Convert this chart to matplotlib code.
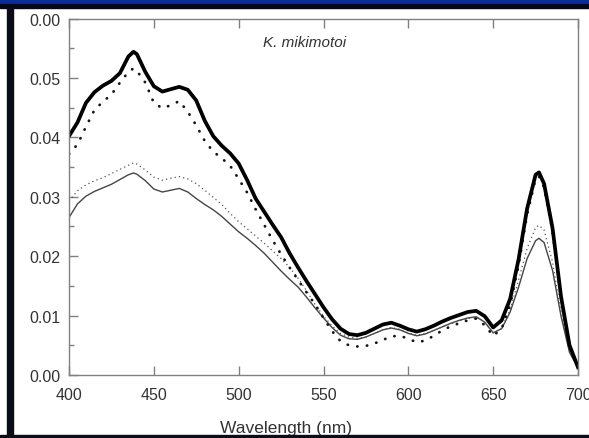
import matplotlib
matplotlib.use('Agg')
import matplotlib.pyplot as plt
from matplotlib.patches import Rectangle

plt.rcParams['font.family'] = ['Liberation Sans', 'DejaVu Sans']

# wavelength grid (nm)
wl = [400, 405, 410, 415, 420, 425, 430, 435, 438, 440,
      445, 450, 455, 460, 465, 470, 475, 480, 485, 490,
      495, 500, 505, 510, 515, 520, 525, 530, 535, 540,
      545, 550, 555, 560, 565, 570, 575, 580, 585, 590,
      595, 600, 605, 610, 615, 620, 625, 630, 635, 640,
      645, 650, 655, 660, 665, 670, 675, 677, 680, 685,
      690, 695, 700]

# thick solid
thick_solid = [0.0402, 0.0425, 0.0458, 0.0476, 0.0487, 0.0495, 0.0508, 0.0536, 0.0544, 0.0540,
               0.0510, 0.0486, 0.0477, 0.0481, 0.0485, 0.0480, 0.0462, 0.0428, 0.0402, 0.0386,
               0.0373, 0.0356, 0.0328, 0.0297, 0.0275, 0.0253, 0.0232, 0.0205, 0.0181, 0.0158,
               0.0136, 0.0114, 0.0094, 0.0078, 0.0069, 0.0067, 0.0071, 0.0078, 0.0085, 0.0088,
               0.0083, 0.0077, 0.0073, 0.0077, 0.0083, 0.0090, 0.0096, 0.0101, 0.0106, 0.0108,
               0.0099, 0.0080, 0.0092, 0.0128, 0.0195, 0.0280, 0.0337, 0.0341, 0.0322, 0.0247,
               0.0132, 0.0050, 0.0013]

# thick dotted
thick_dot = [0.0372, 0.0388, 0.0418, 0.0446, 0.0460, 0.0472, 0.0492, 0.0510, 0.0516, 0.0512,
             0.0492, 0.0458, 0.0449, 0.0454, 0.0461, 0.0443, 0.0420, 0.0394, 0.0376, 0.0365,
             0.0352, 0.0330, 0.0307, 0.0279, 0.0253, 0.0227, 0.0203, 0.0181, 0.0160, 0.0139,
             0.0119, 0.0096, 0.0074, 0.0057, 0.0050, 0.0048, 0.0049, 0.0053, 0.0059, 0.0065,
             0.0066, 0.0061, 0.0055, 0.0058, 0.0066, 0.0075, 0.0082, 0.0087, 0.0092, 0.0095,
             0.0084, 0.0066, 0.0078, 0.0118, 0.0185, 0.0270, 0.0330, 0.0334, 0.0316, 0.0242,
             0.0128, 0.0048, 0.0012]

# thin dotted
thin_dot = [0.0293, 0.0310, 0.0320, 0.0327, 0.0332, 0.0339, 0.0346, 0.0353, 0.0357, 0.0355,
            0.0345, 0.0333, 0.0328, 0.0331, 0.0334, 0.0330, 0.0322, 0.0311, 0.0299, 0.0287,
            0.0272, 0.0258, 0.0246, 0.0234, 0.0222, 0.0209, 0.0196, 0.0181, 0.0163, 0.0142,
            0.0119, 0.0099, 0.0083, 0.0070, 0.0064, 0.0062, 0.0064, 0.0070, 0.0076, 0.0080,
            0.0077, 0.0071, 0.0067, 0.0070, 0.0075, 0.0081, 0.0086, 0.0091, 0.0095, 0.0097,
            0.0089, 0.0071, 0.0079, 0.0110, 0.0160, 0.0213, 0.0248, 0.0252, 0.0244, 0.0190,
            0.0105, 0.0040, 0.0012]

# thin solid
thin_solid = [0.0265, 0.0288, 0.0301, 0.0309, 0.0315, 0.0321, 0.0329, 0.0337, 0.0340, 0.0338,
              0.0327, 0.0313, 0.0308, 0.0311, 0.0314, 0.0308, 0.0297, 0.0287, 0.0278, 0.0267,
              0.0254, 0.0241, 0.0230, 0.0218, 0.0205, 0.0190, 0.0175, 0.0161, 0.0148, 0.0131,
              0.0113, 0.0096, 0.0080, 0.0067, 0.0061, 0.0060, 0.0064, 0.0070, 0.0076, 0.0079,
              0.0076, 0.0070, 0.0066, 0.0069, 0.0075, 0.0081, 0.0087, 0.0092, 0.0096, 0.0098,
              0.0089, 0.0071, 0.0078, 0.0106, 0.0148, 0.0196, 0.0226, 0.0230, 0.0223, 0.0176,
              0.0099, 0.0038, 0.0012]

xticks = [400, 450, 500, 550, 600, 650, 700]
yticks = [0.00, 0.01, 0.02, 0.03, 0.04, 0.05, 0.06]
ylabels = ['0.00', '0.01', '0.02', '0.03', '0.04', '0.05', '0.00']

fig = plt.figure(figsize=(5.89, 4.39), dpi=100)
fig.patch.set_facecolor('white')

# slide frame bits
fig.patches.append(Rectangle((0, 1 - 5/439), 1, 5/439, transform=fig.transFigure,
                             color='#0a2f9c', zorder=0))
fig.patches.append(Rectangle((0, 1 - 9/439), 1, 4/439, transform=fig.transFigure,
                             color='#05081a', zorder=0))
fig.patches.append(Rectangle((7/589, 0), 6/589, 1 - 9/439, transform=fig.transFigure,
                             color='#0a0c18', zorder=0))
fig.patches.append(Rectangle((0, 0), 1, 3/439, transform=fig.transFigure,
                             color='#0a0c18', zorder=0))

ax = fig.add_axes([69/589, 1 - 376/439, 509/589, 356.5/439])

ax.plot(wl, thin_solid, color='#454545', lw=1.0)
ax.plot(wl, thin_dot, color='#555555', lw=0.9, ls=(0, (1, 2.5)))
ax.plot(wl, thick_dot, color='#151515', lw=2.0, ls=(0, (0.1, 3.4)), dash_capstyle='round')
ax.plot(wl, thick_solid, color='black', lw=2.7, solid_joinstyle='round')

ax.set_xlim(400, 700)
ax.set_ylim(0, 0.06)
ax.set_xticks(xticks)
ax.set_yticks(yticks)
ax.set_yticklabels(ylabels)
ax.set_yticks([0.005, 0.015, 0.025, 0.035, 0.045, 0.055], minor=True)

for s in ax.spines.values():
    s.set_color('#808080')
    s.set_linewidth(1.0)

ax.tick_params(axis='both', which='major', direction='in', length=6.5, width=1,
               color='#808080', labelcolor='#333333', labelsize=11.5)
ax.tick_params(axis='y', which='minor', direction='in', length=3.5, width=1, color='#808080')
ax.tick_params(axis='x', which='major', top=True, pad=8.5)
ax.tick_params(axis='y', which='major', pad=6)
ax.tick_params(axis='y', which='both', right=False)

ax.set_xlabel('Wavelength (nm)', fontsize=12.5, color='#333333')
ax.xaxis.set_label_coords(0.426, -0.125)
ax.text(539, 0.056, 'K. mikimotoi', style='italic', fontsize=11, color='#333333',
        ha='center', va='center')

fig.savefig('out.png', dpi=100)
